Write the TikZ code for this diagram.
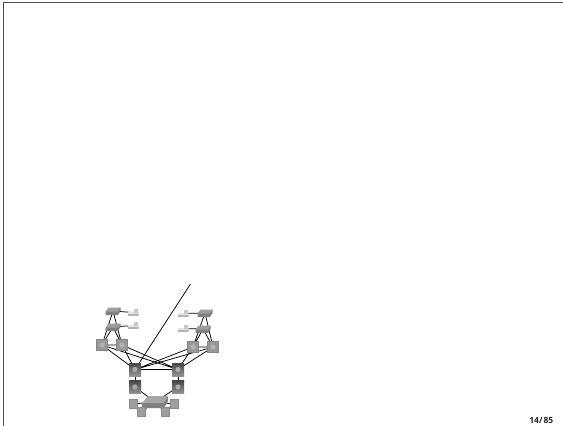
\documentclass[tikz,border=0pt]{standalone}
\usepackage{fontspec}
\setmainfont{Open Sans}
\usetikzlibrary{backgrounds}
\tikzset{
 link/.style={draw=black,line width=0.75pt},
 frameline/.style={draw=black!70,line width=1.1pt},
 routerbase/.style={rectangle,minimum width=#1,minimum height=10pt,inner sep=0pt,path picture={
   \begin{scope}[shift={(path picture bounding box.center)}]
   \fill[black!50] (-7.5,0.5) -- (-7.5,4) -- (5,4) -- (7.5,0) -- (7.5,-3.5) -- cycle;
   \fill[black!38] (-7.5,0.5) -- (-4.5,-3.5) -- (7.5,-3.5) -- (5,0.5) -- cycle;
   \end{scope}}},
 router/.style={routerbase=16pt},
 bigrouter/.style={rectangle,minimum width=27pt,minimum height=14pt,inner sep=0pt,path picture={
   \begin{scope}[shift={(path picture bounding box.center)}]
   \fill[black!50] (-13,1) -- (-13,6) -- (9,6) -- (13,-1) -- (13,-5) -- cycle;
   \fill[black!35] (-13,1) -- (-7,-6) -- (13,-6) -- (9,1) -- cycle;
   \end{scope}}},
 host/.style={rectangle,minimum width=11pt,minimum height=7pt,inner sep=0pt,path picture={
   \begin{scope}[shift={(path picture bounding box.center)}]
   \fill[black!30] (-5.5,0.5) rectangle (5.5,3.5);
   \fill[black!10] (-5.5,-0.5) rectangle (5.5,1.5);
   \fill[black!22] (0.5,-3.5) rectangle (5,0);
   \end{scope}}},
 switchbox/.style={rectangle,minimum width=11pt,minimum height=11pt,inner sep=0pt,fill=black!40,draw=black!48,line width=0.2pt,path picture={\fill[black!30] (path picture bounding box.center) circle (2.6pt);}},
 darkswitch/.style={rectangle,minimum width=12pt,minimum height=13pt,inner sep=0pt,top color=black!72,bottom color=black!42,path picture={\fill[black!33] (path picture bounding box.center) circle (2.6pt);}},
 drum/.style={rectangle,minimum width=8pt,minimum height=9pt,inner sep=0pt,fill=black!38,draw=black!45,line width=0.2pt},
 pagenum/.style={inner sep=0pt,font=\fontsize{8.5}{10}\selectfont\bfseries,text=black!85},
}
\begin{document}
\begin{tikzpicture}[x=1pt,y=-1pt]
\useasboundingbox (0,0) rectangle (563,426);
\coordinate (fa) at (563,2.5);
\coordinate (fb) at (3.5,2.5);
\coordinate (fc) at (3.5,426);
\coordinate (tip) at (190.5,284);
\draw[frameline] (fa) -- (fb) -- (fc);
\node[router] (r1) at (113,311) {};
\node[router] (r2) at (113,327) {};
\node[host] (h1) at (133,312.5) {};
\node[host] (h2) at (133,325.5) {};
\node[switchbox] (s1) at (102,345) {};
\node[switchbox] (s2) at (122,345) {};
\node[router] (r3) at (205,313) {};
\node[router] (r4) at (203,329) {};
\node[host] (h3) at (183,313.5) {};
\node[host] (h4) at (183,328.5) {};
\node[switchbox] (s3) at (193,347) {};
\node[switchbox] (s4) at (213,347) {};
\node[darkswitch] (c1) at (135,369.5) {};
\node[darkswitch] (c2) at (178,369.5) {};
\node[darkswitch] (d1) at (135,387) {};
\node[darkswitch] (d2) at (178,387) {};
\node[bigrouter] (m) at (155,402) {};
\node[drum] (a1) at (133,404) {};
\node[drum] (a2) at (141,412) {};
\node[drum] (a3) at (174,404) {};
\node[drum] (a4) at (165,412) {};
\begin{pgfonlayer}{background}
\draw[link] (r1.center) -- (h1.center) (r2.center) -- (h2.center) (r3.center) -- (h3.center) (r4.center) -- (h4.center);
\draw[link] (r1.center) -- (s1.center) (r1.center) -- (s2.center) (r2.center) -- (s1.center) (r2.center) -- (s2.center) (s1.center) -- (s2.center);
\draw[link] (r3.center) -- (s3.center) (r3.center) -- (s4.center) (r4.center) -- (s3.center) (r4.center) -- (s4.center) (s3.center) -- (s4.center);
\draw[link] (s1.center) -- (c1.center) (s1.center) -- (c2.center) (s2.center) -- (c1.center) (s2.center) -- (c2.center);
\draw[link] (s3.center) -- (c1.center) (s3.center) -- (c2.center) (s4.center) -- (c1.center) (s4.center) -- (c2.center);
\draw[link] (c1.center) -- (c2.center) (c1.center) -- (d1.center) (c2.center) -- (d2.center);
\draw[link] (d1.center) -- (m.center) (d2.center) -- (m.center);
\draw[link] (a1.center) -- (m.center) (a2.center) -- (m.center) (a3.center) -- (m.center) (a4.center) -- (m.center);
\draw[link] (tip) -- (c1.center);
\end{pgfonlayer}
\node[pagenum,anchor=east] (pg) at (553.5,420) {14/\kern1pt85};
\end{tikzpicture}
\end{document}
